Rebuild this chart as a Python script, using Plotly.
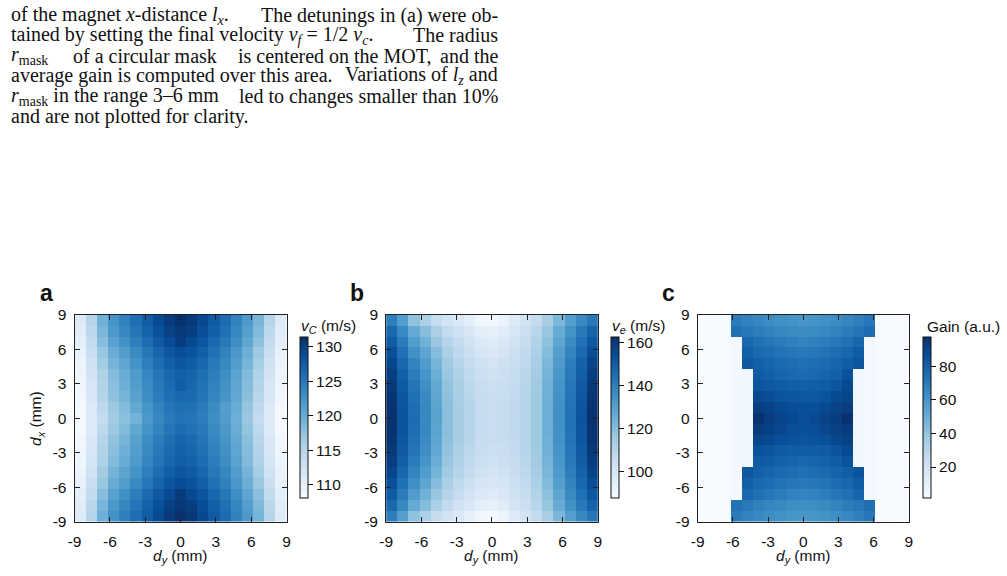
import plotly.graph_objects as go

W, H = 1007, 576

# ---------------- data ----------------
grid_pos = [-8.526, -7.579, -6.632, -5.684, -4.737, -3.789, -2.842, -1.895, -0.947, 0.0,
            0.947, 1.895, 2.842, 3.789, 4.737, 5.684, 6.632, 7.579, 8.526]
dy_vals = grid_pos
dx_vals = grid_pos[::-1]  # rows listed top -> bottom

tick_vals = [-9, -6, -3, 0, 3, 6, 9]
tick_text = ["-9", "-6", "-3", "0", "3", "6", "9"]

vc = [
    [111.0, 115.0, 119.5, 122.5, 124.2, 125.8, 127.3, 129.0, 130.3, 131.2, 130.6, 129.2, 127.5, 126.0, 124.0, 121.8, 119.0, 115.0, 111.0],
    [110.7, 114.6, 118.9, 121.9, 123.6, 125.2, 126.8, 128.5, 129.8, 130.6, 130.1, 128.7, 127.1, 125.6, 123.6, 121.3, 118.5, 114.6, 110.8],
    [110.3, 114.0, 118.1, 121.0, 122.7, 124.4, 126.0, 127.7, 128.9, 130.3, 129.2, 128.0, 126.4, 124.9, 122.9, 120.6, 117.8, 114.0, 110.4],
    [109.8, 113.3, 117.1, 119.9, 121.5, 123.3, 125.0, 126.7, 127.9, 128.7, 128.3, 127.1, 125.6, 124.1, 122.1, 119.7, 116.9, 113.3, 109.9],
    [109.5, 112.7, 116.4, 119.1, 120.7, 122.5, 124.3, 125.9, 127.2, 127.9, 127.5, 126.5, 124.9, 123.5, 121.5, 119.1, 116.2, 112.7, 109.6],
    [109.1, 112.2, 115.7, 118.3, 119.9, 121.7, 123.6, 125.2, 126.5, 127.1, 126.8, 125.8, 124.4, 122.9, 120.9, 118.4, 115.5, 112.2, 109.3],
    [109.0, 112.0, 115.4, 118.0, 119.6, 121.5, 123.3, 125.0, 126.2, 127.3, 126.6, 125.6, 124.1, 122.7, 120.7, 118.2, 115.3, 112.0, 109.1],
    [108.8, 111.7, 115.0, 117.6, 119.1, 121.0, 123.0, 124.6, 125.8, 126.4, 126.2, 125.3, 123.8, 122.4, 120.4, 117.9, 114.9, 111.7, 109.0],
    [108.5, 111.3, 114.4, 116.9, 118.4, 120.4, 122.4, 124.0, 125.2, 125.8, 125.6, 124.7, 123.3, 121.4, 119.9, 117.3, 114.4, 111.3, 108.7],
    [108.3, 111.0, 114.0, 116.5, 118.0, 119.3, 122.0, 123.6, 124.8, 125.4, 125.2, 124.4, 123.0, 121.6, 119.6, 117.0, 114.0, 111.0, 108.5],
    [108.5, 111.3, 114.5, 117.0, 118.5, 120.5, 122.5, 124.0, 125.3, 125.9, 125.6, 124.8, 123.3, 121.9, 119.9, 117.4, 114.5, 111.3, 108.7],
    [108.8, 111.7, 115.0, 117.6, 119.1, 121.0, 123.0, 124.6, 125.8, 126.8, 126.2, 125.3, 123.8, 122.4, 120.4, 117.9, 114.9, 111.7, 109.0],
    [109.0, 112.0, 115.4, 118.0, 119.6, 121.5, 123.3, 125.0, 126.2, 126.9, 126.6, 125.6, 124.1, 122.7, 120.7, 118.2, 115.3, 112.0, 109.1],
    [109.2, 112.3, 115.8, 118.4, 120.0, 121.8, 123.7, 125.3, 126.6, 127.2, 126.9, 125.9, 124.5, 123.0, 121.0, 118.5, 115.6, 112.3, 109.4],
    [109.5, 112.8, 116.5, 119.2, 120.8, 122.6, 124.4, 126.0, 127.3, 128.0, 127.6, 126.6, 125.0, 123.6, 121.6, 119.2, 116.3, 112.8, 109.7],
    [109.9, 113.4, 117.2, 120.0, 121.6, 123.4, 125.1, 126.8, 128.0, 128.9, 128.4, 127.2, 125.7, 124.2, 122.2, 119.8, 117.0, 113.4, 110.0],
    [110.4, 114.1, 118.2, 121.1, 122.8, 124.5, 126.1, 127.8, 129.0, 130.4, 129.3, 128.1, 126.5, 125.0, 123.0, 120.7, 117.9, 114.1, 110.5],
    [110.8, 114.7, 119.0, 122.0, 123.7, 125.3, 126.9, 128.6, 129.9, 130.7, 130.2, 128.8, 127.2, 125.7, 123.7, 121.4, 118.6, 114.7, 110.9],
    [111.1, 115.1, 119.6, 122.6, 124.3, 125.9, 127.4, 129.1, 130.4, 131.3, 130.7, 129.3, 127.6, 126.1, 124.1, 121.9, 119.1, 115.1, 111.1],
]

ve = [
    [140.0, 130.4, 118.5, 112.4, 105.6, 101.5, 98.1, 94.4, 90.6, 89.1, 92.0, 97.0, 101.5, 106.4, 113.5, 122.0, 130.4, 137.0, 142.0],
    [146.6, 137.0, 126.5, 119.9, 112.6, 106.9, 102.9, 99.1, 95.4, 93.9, 96.2, 100.2, 104.2, 109.3, 117.0, 125.9, 134.3, 141.5, 148.0],
    [150.3, 140.8, 131.0, 124.2, 116.6, 110.0, 105.6, 101.7, 98.1, 96.6, 98.6, 101.9, 105.7, 110.9, 118.9, 128.1, 136.6, 144.1, 151.4],
    [153.6, 144.1, 134.9, 128.0, 120.1, 112.7, 108.0, 104.1, 100.5, 99.0, 100.7, 103.5, 107.1, 112.4, 120.6, 130.1, 138.5, 146.3, 154.4],
    [156.5, 147.0, 138.4, 131.2, 123.2, 115.0, 110.0, 106.1, 102.5, 101.0, 102.5, 104.9, 108.3, 113.6, 122.1, 131.8, 140.2, 148.3, 157.0],
    [158.5, 149.0, 140.8, 133.5, 125.3, 116.6, 111.5, 107.5, 104.0, 102.5, 103.8, 105.8, 109.1, 114.5, 123.2, 132.9, 141.4, 149.6, 158.8],
    [160.0, 150.5, 142.6, 135.2, 126.9, 117.9, 112.6, 108.6, 105.1, 103.6, 104.7, 106.6, 109.7, 115.1, 124.0, 133.8, 142.3, 150.7, 160.2],
    [161.1, 151.6, 143.9, 136.5, 128.1, 118.8, 113.4, 109.4, 105.9, 104.4, 105.4, 107.1, 110.1, 115.6, 124.5, 134.5, 143.0, 151.4, 161.2],
    [161.8, 152.3, 144.7, 137.2, 128.8, 119.3, 113.8, 109.8, 106.3, 104.8, 105.9, 107.4, 110.4, 115.9, 124.9, 134.9, 143.4, 151.9, 161.8],
    [162.0, 152.5, 145.0, 137.5, 129.0, 119.5, 114.0, 110.0, 106.5, 105.0, 106.0, 107.5, 110.5, 116.0, 125.0, 135.0, 143.5, 152.0, 162.0],
    [161.9, 152.4, 144.8, 137.3, 128.9, 119.4, 113.9, 109.9, 106.4, 104.9, 106.0, 107.4, 110.4, 115.9, 124.9, 134.9, 143.4, 151.9, 161.9],
    [161.2, 151.7, 144.0, 136.6, 128.2, 118.9, 113.5, 109.5, 106.0, 104.5, 105.5, 107.2, 110.2, 115.7, 124.6, 134.6, 143.1, 151.5, 161.3],
    [160.1, 150.6, 142.7, 135.3, 127.0, 118.0, 112.7, 108.7, 105.2, 103.7, 104.8, 106.7, 109.8, 115.2, 124.1, 133.9, 142.4, 150.8, 160.3],
    [158.6, 149.1, 140.9, 133.6, 125.4, 116.7, 111.6, 107.6, 104.1, 102.6, 103.9, 105.9, 109.2, 114.6, 123.3, 133.0, 141.5, 149.7, 158.9],
    [156.6, 147.1, 138.5, 131.3, 123.3, 115.1, 110.1, 106.2, 102.6, 101.1, 102.6, 105.0, 108.4, 113.7, 122.2, 131.9, 140.3, 148.4, 157.1],
    [153.7, 144.2, 135.0, 128.1, 120.2, 112.8, 108.1, 104.2, 100.6, 99.1, 100.8, 103.6, 107.2, 112.5, 120.7, 130.2, 138.6, 146.4, 154.5],
    [150.4, 140.9, 131.1, 124.3, 116.7, 110.1, 105.7, 101.8, 98.2, 96.7, 98.7, 102.0, 105.8, 111.0, 119.0, 128.2, 136.7, 144.2, 151.5],
    [146.7, 137.1, 126.6, 120.0, 112.7, 107.0, 103.0, 99.2, 95.5, 94.0, 96.3, 100.3, 104.3, 109.4, 117.1, 126.0, 134.4, 141.6, 148.1],
    [140.1, 130.5, 118.6, 112.5, 105.7, 101.6, 98.2, 94.5, 90.7, 89.2, 92.1, 97.1, 101.6, 106.5, 113.6, 122.1, 130.5, 137.1, 142.1],
]

gain = [
    [1.5, 2.0, 2.5, 70.0, 67.5, 65.5, 63.5, 62.0, 60.5, 59.5, 60.5, 62.0, 63.5, 66.0, 68.5, 71.5, 2.5, 2.0, 1.5],
    [1.5, 2.0, 2.5, 74.0, 71.0, 69.0, 67.0, 65.5, 64.0, 63.5, 64.0, 65.5, 67.0, 69.5, 72.0, 75.0, 2.5, 2.0, 1.5],
    [1.5, 2.0, 2.5, 3.5, 77.0, 74.0, 72.0, 70.0, 68.0, 67.0, 68.0, 69.5, 71.5, 74.0, 77.5, 3.5, 2.5, 2.0, 1.5],
    [1.5, 2.0, 2.5, 3.5, 80.0, 77.0, 75.0, 73.0, 72.0, 71.0, 72.0, 73.0, 75.0, 77.5, 81.0, 3.5, 2.5, 2.0, 1.5],
    [1.5, 2.0, 2.5, 3.5, 82.5, 80.0, 78.0, 76.0, 75.0, 74.0, 75.0, 76.0, 78.0, 80.5, 83.5, 3.5, 2.5, 2.0, 1.5],
    [1.5, 2.0, 2.5, 3.5, 5.0, 82.0, 80.0, 78.0, 77.0, 76.0, 77.0, 78.5, 80.0, 85.0, 5.0, 3.5, 2.5, 2.0, 1.5],
    [1.5, 2.0, 2.5, 3.5, 5.0, 84.0, 83.0, 81.5, 80.5, 80.0, 80.5, 81.5, 83.5, 88.0, 5.0, 3.5, 2.5, 2.0, 1.5],
    [1.5, 2.0, 2.5, 3.5, 5.0, 88.5, 87.0, 84.0, 83.5, 83.0, 83.0, 84.5, 88.0, 89.5, 5.0, 3.5, 2.5, 2.0, 1.5],
    [1.5, 2.0, 2.5, 3.5, 5.0, 92.0, 90.5, 88.0, 87.0, 86.0, 86.0, 88.0, 90.5, 92.5, 5.0, 3.5, 2.5, 2.0, 1.5],
    [1.5, 2.0, 2.5, 3.5, 5.0, 97.0, 92.5, 90.0, 88.0, 86.5, 88.0, 90.5, 92.5, 97.0, 5.0, 3.5, 2.5, 2.0, 1.5],
    [1.5, 2.0, 2.5, 3.5, 5.0, 93.0, 91.0, 89.0, 87.0, 86.0, 87.0, 89.0, 91.5, 93.0, 5.0, 3.5, 2.5, 2.0, 1.5],
    [1.5, 2.0, 2.5, 3.5, 5.0, 90.0, 88.0, 86.0, 85.0, 84.0, 85.0, 86.5, 89.0, 91.0, 5.0, 3.5, 2.5, 2.0, 1.5],
    [1.5, 2.0, 2.5, 3.5, 5.0, 85.0, 84.0, 82.0, 81.0, 80.5, 81.0, 82.0, 84.0, 88.0, 5.0, 3.5, 2.5, 2.0, 1.5],
    [1.5, 2.0, 2.5, 3.5, 5.0, 82.0, 81.0, 79.0, 78.0, 77.0, 78.0, 79.0, 81.0, 85.0, 5.0, 3.5, 2.5, 2.0, 1.5],
    [1.5, 2.0, 2.5, 3.5, 83.0, 80.0, 78.0, 76.5, 75.0, 74.0, 75.0, 76.5, 78.5, 80.5, 84.0, 3.5, 2.5, 2.0, 1.5],
    [1.5, 2.0, 2.5, 3.5, 80.0, 77.0, 75.0, 73.0, 71.5, 70.5, 71.5, 73.0, 75.0, 77.5, 81.0, 3.5, 2.5, 2.0, 1.5],
    [1.5, 2.0, 2.5, 3.5, 77.0, 74.0, 71.5, 69.5, 67.5, 66.5, 67.5, 69.0, 71.5, 74.0, 78.0, 3.5, 2.5, 2.0, 1.5],
    [1.5, 2.0, 2.5, 73.0, 70.5, 68.0, 66.0, 64.5, 63.0, 62.5, 63.0, 64.5, 66.5, 69.0, 71.5, 74.5, 2.5, 2.0, 1.5],
    [1.5, 2.0, 2.5, 70.0, 67.0, 65.0, 63.0, 61.5, 60.0, 59.5, 60.0, 61.5, 63.0, 65.5, 68.0, 71.0, 2.5, 2.0, 1.5],
]

vc_ticks = [110, 115, 120, 125, 130]
ve_ticks = [100, 120, 140, 160]
gain_ticks = [20, 40, 60, 80]

# caption text, split into chunks (text, anchor) per line
caption_lines = [
    [("of the magnet <i>x</i>-distance <i>l</i><sub><i>x</i></sub>.", "left"),
     ("The detunings in (a) were ob-", "right")],
    [("tained by setting the final velocity <i>v</i><sub><i>f</i></sub> = 1/2 <i>v</i><sub><i>c</i></sub>.", "left"),
     ("The radius", "right")],
    [("<i>r</i><sub>mask</sub>", "left"), ("of a circular mask", "left"),
     ("is centered on the MOT,", "left"), ("and the", "right")],
    [("average gain is computed over this area.", "left"),
     ("Variations of <i>l</i><sub><i>z</i></sub> and", "right")],
    [("<i>r</i><sub>mask</sub> in the range 3–6 mm", "left"),
     ("led to changes smaller than 10%", "right")],
    [("and are not plotted for clarity.", "left")],
]

# ---------------- styling / layout ----------------
blues = [[0.0, "#f7fbff"], [0.125, "#deebf7"], [0.25, "#c6dbef"], [0.375, "#9ecae1"],
         [0.5, "#6baed6"], [0.625, "#4292c6"], [0.75, "#2171b5"], [0.875, "#08519c"],
         [1.0, "#08306b"]]
SANS = "Liberation Sans, Arial, Helvetica, sans-serif"
SERIF = "Liberation Serif, Times New Roman, serif"
TICK_SIZE = 15.5

caption_x = [  # anchor pixel positions of each chunk
    [3, 497.5],
    [3, 497.5],
    [3, 66, 233, 497.5],
    [3, 497.5],
    [3, 497.5],
    [3],
]
line_y = [11.7, 32.3, 53.3, 74.0, 95.0, 116.0]


def px(x):
    return x / W


def py(y):
    return 1 - y / H


panels = [  # plot-area pixel boxes (left, right)
    (68.3, 282.7),
    (383.3, 597.3),
    (698.3, 911.7),
]
top_px, bot_px = 315.0, 528.3
cbar_left = [296.0, 610.7, 926.0]

fig = go.Figure()
zs = [vc, ve, gain]
zr = [(108.1, 131.4), (87.6, 162.7), (1.5, 97.5)]
cticks = [vc_ticks, ve_ticks, gain_ticks]
for i in range(3):
    suffix = "" if i == 0 else str(i + 1)
    fig.add_trace(go.Heatmap(
        x=dy_vals, y=dx_vals, z=zs[i], zmin=zr[i][0], zmax=zr[i][1],
        colorscale=blues, zsmooth=False,
        xaxis="x" + suffix, yaxis="y" + suffix,
        colorbar=dict(
            x=px(cbar_left[i]), xanchor="left", xref="paper",
            y=py((338 + 504) / 2), yanchor="middle", yref="paper",
            len=166 / H, lenmode="fraction", thickness=8, thicknessmode="pixels",
            xpad=0, ypad=0, outlinewidth=1, outlinecolor="#111",
            tickvals=cticks[i], ticks="outside", ticklen=5, tickwidth=1, tickcolor="#111",
            tickfont=dict(family=SANS, size=TICK_SIZE, color="#111"),
        ),
    ))

    axis_common = dict(
        range=[-9, 9], tickvals=tick_vals, ticktext=tick_text, ticks="inside", ticklen=5,
        tickwidth=1, tickcolor="#222", showline=True, linecolor="#222", linewidth=1,
        mirror="ticks", showgrid=False, zeroline=False,
        tickfont=dict(family=SANS, size=TICK_SIZE, color="#111"),
    )
    fig.update_layout(**{
        "xaxis" + suffix: dict(axis_common, domain=[px(panels[i][0]), px(panels[i][1])],
                               anchor="y" + suffix, ticklabelstandoff=6),
        "yaxis" + suffix: dict(axis_common, domain=[py(bot_px), py(top_px)],
                               anchor="x" + suffix, ticklabelstandoff=4),
    })

ann = []
# caption paragraph
CAP = 20
for chunks, xs, yy in zip(caption_lines, caption_x, line_y):
    for (txt, anchor), xx in zip(chunks, xs):
        ann.append(dict(text=txt, x=px(xx), y=py(yy - 5), xanchor=anchor, yanchor="middle",
                        borderpad=0, font=dict(family=SERIF, size=CAP, color="#111")))

# panel letters
for letter, xx in zip(["a", "b", "c"], [40, 354, 669]):
    ann.append(dict(text="<b>" + letter + "</b>", x=px(xx), y=py(293), xanchor="center",
                    yanchor="middle",
                    font=dict(family="Liberation Sans Narrow, " + SANS, size=23, color="#111")))

# axis titles
for l, r in panels:
    ann.append(dict(text="<i>d</i><sub><i>y</i></sub> (mm)", x=px((l + r) / 2), y=py(552),
                    xanchor="center", yanchor="top", font=dict(family=SANS, size=15.5, color="#111")))
ann.append(dict(text="<i>d</i><sub><i>x</i></sub> (mm)", x=px(30), y=py((top_px + bot_px) / 2),
                xanchor="center", yanchor="middle", textangle=-90,
                font=dict(family=SANS, size=15.5, color="#111")))

# colorbar titles
cb_titles = ["<i>v</i><sub><i>C</i></sub> (m/s)", "<i>v</i><sub><i>e</i></sub> (m/s)", "Gain (a.u.)"]
cb_title_x = [296, 610.5, 929.5]
for t, xx in zip(cb_titles, cb_title_x):
    ann.append(dict(text=t, x=px(xx), y=py(327), xanchor="left", yanchor="middle",
                    width=76, align="left", borderpad=0,
                    font=dict(family=SANS, size=15.5, color="#111")))

for a in ann:
    a.update(xref="paper", yref="paper", showarrow=False)

fig.update_layout(
    width=W, height=H, margin=dict(l=0, r=0, t=0, b=0),
    paper_bgcolor="white", plot_bgcolor="white",
    annotations=ann, showlegend=False,
)

fig.write_html("out.html")
